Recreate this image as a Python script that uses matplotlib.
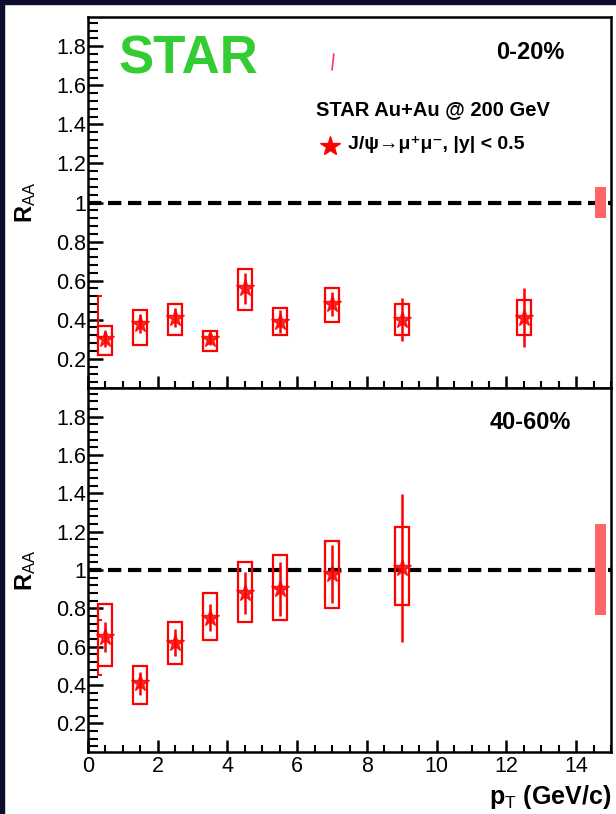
import matplotlib
matplotlib.use("Agg")
import matplotlib.pyplot as plt
from matplotlib.patches import Rectangle
from matplotlib.ticker import MultipleLocator, FuncFormatter

# -----------------------------
# datos
# -----------------------------
# 0-20%
pt_c = [0.5, 1.5, 2.5, 3.5, 4.5, 5.5, 7.0, 9.0, 12.5]
raa_c = [0.30, 0.38, 0.41, 0.30, 0.56, 0.39, 0.48, 0.40, 0.41]
stat_c = [0.04, 0.05, 0.05, 0.03, 0.08, 0.06, 0.06, 0.11, 0.15]
sys_lo_c = [0.22, 0.27, 0.32, 0.24, 0.45, 0.32, 0.39, 0.32, 0.32]
sys_hi_c = [0.37, 0.45, 0.48, 0.34, 0.66, 0.46, 0.56, 0.48, 0.50]
glob_c = [0.92, 1.08]

# 40-60%
pt_p = [0.5, 1.5, 2.5, 3.5, 4.5, 5.5, 7.0, 9.0]
raa_p = [0.65, 0.41, 0.62, 0.75, 0.88, 0.90, 0.98, 1.01]
stat_p = [0.08, 0.06, 0.07, 0.07, 0.11, 0.14, 0.15, 0.385]
sys_lo_p = [0.50, 0.30, 0.51, 0.635, 0.73, 0.74, 0.80, 0.815]
sys_hi_p = [0.82, 0.50, 0.73, 0.88, 1.04, 1.08, 1.15, 1.225]
glob_p = [0.765, 1.24]

# restos de otra serie en el borde izquierdo
extra_x = 0.28
extra_c = [0.31, 0.52]
extra_p = [0.45, 0.74]
mark_x = [7.05, 7.0]
mark_y = [1.76, 1.68]

box_hw = 0.2
glob_x = [14.55, 14.86]

ROJO = "#ff0000"
FUENTE = ["Liberation Sans Narrow", "Liberation Sans", "DejaVu Sans"]
plt.rcParams["font.family"] = FUENTE
plt.rcParams["mathtext.fontset"] = "custom"
plt.rcParams["mathtext.rm"] = "Liberation Sans"
plt.rcParams["mathtext.it"] = "Liberation Sans"


def panel(ax, pt, raa, stat, lo, hi, glob, extra, etiqueta):
    ax.set_xlim(0, 15)
    ax.set_ylim(0.05, 1.95)
    ax.axhline(1.0, color="black", lw=3, ls=(0, (3.2, 1.6)), zorder=1)
    for x, l, h in zip(pt, lo, hi):
        ax.add_patch(Rectangle((x - box_hw, l), 2 * box_hw, h - l, fill=False,
                               ec=ROJO, lw=1.6, zorder=3))
    ax.errorbar(pt, raa, yerr=stat, fmt="none", ecolor=ROJO, elinewidth=1.8, zorder=4)
    ax.plot(pt, raa, ls="none", marker="*", ms=13, color=ROJO, alpha=0.85, zorder=5)
    ax.plot([extra_x + 0.08, extra_x, extra_x, extra_x + 0.08],
            [extra[0], extra[0], extra[1], extra[1]], color=ROJO, lw=1.4, zorder=3)
    ax.add_patch(Rectangle((glob_x[0], glob[0]), glob_x[1] - glob_x[0], glob[1] - glob[0],
                           color="#ff6666", lw=0, zorder=2))
    ax.text(0.845, 0.905, etiqueta, transform=ax.transAxes, ha="center", va="center",
            fontsize=17, fontweight="bold")

    ax.yaxis.set_major_locator(MultipleLocator(0.2))
    ax.yaxis.set_minor_locator(MultipleLocator(0.04))
    ax.xaxis.set_major_locator(MultipleLocator(2))
    ax.xaxis.set_minor_locator(MultipleLocator(0.5))
    ax.yaxis.set_major_formatter(FuncFormatter(lambda v, p: "%g" % round(v, 2) if v > 0.1 else ""))
    ax.tick_params(axis="y", which="major", direction="in", length=11, width=1.8,
                   labelsize=15.5, pad=1, right=False)
    ax.tick_params(axis="y", which="minor", direction="in", length=7, width=1.5, right=False)
    ax.tick_params(axis="x", which="major", direction="in", length=9, width=1.8,
                   labelsize=15.5, pad=3, top=False)
    ax.tick_params(axis="x", which="minor", direction="in", length=5, width=1.5, top=False)
    for s in ax.spines.values():
        s.set_linewidth(1.8)
    ax.set_ylabel(r"R$_{\mathrm{AA}}$", fontsize=17, fontweight="bold")
    ax.yaxis.set_label_coords(-0.095, 0.5)


fig = plt.figure(figsize=(6.16, 8.14), dpi=100)
fig.patch.set_facecolor("white")
fig.patches.append(Rectangle((0, 0), 4 / 616, 1, transform=fig.transFigure,
                             color="#0c0c2c", zorder=0))
fig.patches.append(Rectangle((0, 1 - 4 / 814), 1, 4 / 814, transform=fig.transFigure,
                             color="#0c0c2c", zorder=0))

ax1 = fig.add_axes([88 / 616, 1 - 388 / 814, 523 / 616, 371 / 814])
ax2 = fig.add_axes([88 / 616, 1 - 752 / 814, 523 / 616, 364 / 814])

panel(ax1, pt_c, raa_c, stat_c, sys_lo_c, sys_hi_c, glob_c, extra_c, "0-20%")
panel(ax2, pt_p, raa_p, stat_p, sys_lo_p, sys_hi_p, glob_p, extra_p, "40-60%")
ax1.tick_params(axis="x", labelbottom=False)
ax1.plot(mark_x, mark_y, color="#ff3366", lw=1.2)

# textos del panel superior
ax1.text(0.058, 0.885, "STAR", transform=ax1.transAxes, ha="left", va="center",
         fontsize=38, fontweight="bold", color="#33cc33", family=["Liberation Sans", "DejaVu Sans"])
ax1.text(0.436, 0.75, "STAR Au+Au @ 200 GeV", transform=ax1.transAxes, ha="left",
         va="center", fontsize=14.5, fontweight="bold")
ax1.plot([0.463], [0.652], transform=ax1.transAxes, marker="*", ms=15, color=ROJO, ls="none")
ax1.text(0.497, 0.655, "J/\u03c8\u2192\u03bc\u207a\u03bc\u207b, |y| < 0.5", transform=ax1.transAxes,
         ha="left", va="center", fontsize=14, fontweight="bold")

ax2.set_xlabel(r"p$_{\mathrm{T}}$ (GeV/c)", fontsize=18, fontweight="bold", ha="right", va="top")
ax2.xaxis.set_label_coords(1.0, -0.085)

fig.savefig("out.png", dpi=100)
